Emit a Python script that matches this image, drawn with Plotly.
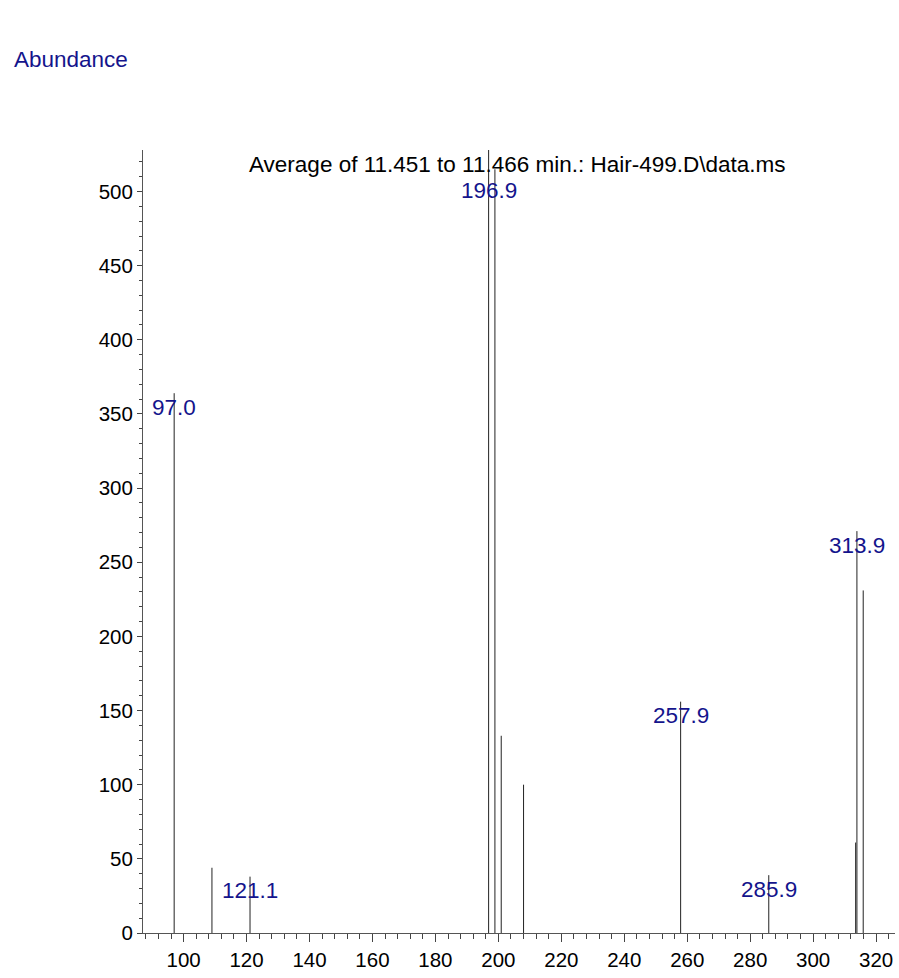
import plotly.graph_objects as go

# Mass spectrum: m/z and abundance of each peak
mz = [97.0, 109.0, 121.1, 196.9, 198.9, 200.9, 208.0, 257.9, 285.9, 313.5, 313.9, 315.9]
abundance = [364, 44, 38, 528, 515, 133, 100, 156, 39, 61, 271, 231]

# Peaks that carry an m/z label
labeled_mz = [97.0, 121.1, 196.9, 257.9, 285.9, 313.9]

title_text = "Average of 11.451 to 11.466 min.: Hair-499.D\\data.ms"
y_title = "Abundance"

FONT = "Liberation Sans, Arial, sans-serif"
NAVY = "#14148c"
TEXT_SIZE = 22.5
TICK_SIZE = 20.5

# stick spectrum: one vertical segment per peak
xs, ys = [], []
for m, a in zip(mz, abundance):
    xs += [m, m, None]
    ys += [0, a, None]

fig = go.Figure()
fig.add_trace(go.Scatter(x=xs, y=ys, mode="lines",
                         line=dict(color="#222222", width=1),
                         hoverinfo="skip", showlegend=False))

# m/z labels, kept below the title line
label_cap = 510
for m in labeled_mz:
    a = abundance[mz.index(m)]
    fig.add_annotation(x=m, y=min(a, label_cap), text=f"{m:.1f}",
                       showarrow=False, xanchor="center", yanchor="middle",
                       yshift=-14, font=dict(family=FONT, size=TEXT_SIZE, color=NAVY))

fig.add_annotation(xref="paper", yref="paper", x=0.4985, y=0.981,
                   text=title_text, showarrow=False, xanchor="center",
                   yanchor="middle", font=dict(family=FONT, size=TEXT_SIZE, color="black"))
fig.add_annotation(xref="paper", yref="paper", x=-0.1747, y=1.115,
                   text=y_title, showarrow=False, xanchor="left",
                   yanchor="middle", font=dict(family=FONT, size=TEXT_SIZE, color=NAVY))

fig.update_layout(
    width=899, height=978,
    margin=dict(l=143, r=4, t=150, b=45),
    paper_bgcolor="white", plot_bgcolor="white",
    font=dict(family=FONT, size=TICK_SIZE, color="black"),
    xaxis=dict(range=[87.1, 326], tickmode="linear", tick0=0, dtick=20,
               ticks="outside", ticklen=8, tickcolor="#444", tickwidth=1,
               minor=dict(dtick=4, tick0=0, ticks="outside", ticklen=5,
                          tickcolor="#444"),
               showline=True, linecolor="#555", linewidth=1,
               showgrid=False, zeroline=False,
               tickfont=dict(family=FONT, size=TICK_SIZE)),
    yaxis=dict(range=[0, 528], tickmode="linear", tick0=0, dtick=50,
               ticks="outside", ticklen=5, tickcolor="#444", tickwidth=1,
               minor=dict(dtick=10, tick0=0, ticks="outside", ticklen=3,
                          tickcolor="#444"),
               showline=True, linecolor="#555", linewidth=1,
               showgrid=False, zeroline=False,
               tickfont=dict(family=FONT, size=TICK_SIZE)),
)

fig.write_html("out.html", config={"displayModeBar": False})
